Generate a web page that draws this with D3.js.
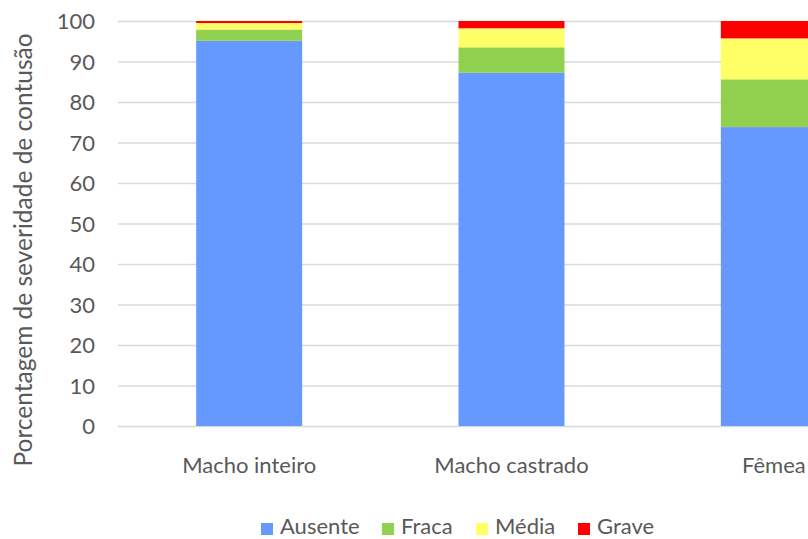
<!DOCTYPE html>
<html><head><meta charset="utf-8">
<script src="https://cdn.jsdelivr.net/npm/d3@7/dist/d3.min.js"></script>
<style>body{margin:0;background:#fff;overflow:hidden}svg{display:block}</style>
</head><body>
<svg id="c" width="808" height="539"></svg>
<script>
const categories = ["Macho inteiro", "Macho castrado", "Fêmea"];
const seriesNames = ["Ausente", "Fraca", "Média", "Grave"];
const ausente = [95.1, 87.2, 73.8];
const fraca = [2.8, 6.3, 11.8];
const media = [1.6, 4.7, 10.1];
const grave = [0.5, 1.8, 4.3];
const yTicks = [0, 10, 20, 30, 40, 50, 60, 70, 80, 90, 100];
const colors = ["#6699FF", "#92D050", "#FFFF66", "#FF0000"];

const font = "Lato, 'Open Sans', sans-serif";
const textColor = "#595959";
const svg = d3.select("#c");

const rows = categories.map((c, i) => ({cat: c, Ausente: ausente[i], Fraca: fraca[i], "Média": media[i], Grave: grave[i]}));
const stacked = d3.stack().keys(seriesNames)(rows);

const x = d3.scaleBand().domain(categories).range([118, 905]).paddingInner(0.596).paddingOuter(0.298);
const y = d3.scaleLinear().domain([0, 100]).range([426, 21]);

// gridlines
svg.append("g").selectAll("line").data(yTicks).join("line")
  .attr("x1", 118).attr("x2", 905)
  .attr("y1", d => y(d) + 0.5).attr("y2", d => y(d) + 0.5)
  .attr("stroke", "#D9D9D9").attr("stroke-width", 1.5);

// y tick labels
const yAxis = d3.axisLeft(y).tickValues(yTicks).tickSize(0).tickPadding(0);
const ga = svg.append("g").attr("transform", "translate(95,0)").call(yAxis);
ga.select(".domain").remove();
ga.selectAll("text").attr("font-family", font).attr("font-size", 22).attr("fill", textColor).attr("dy", "0.36em");

// bars
svg.append("g").selectAll("g").data(stacked).join("g")
  .attr("fill", (d, i) => colors[i])
  .selectAll("rect").data(d => d).join("rect")
  .attr("x", d => x(d.data.cat))
  .attr("width", x.bandwidth())
  .attr("y", d => y(d[1]))
  .attr("height", d => y(d[0]) - y(d[1]));

// x labels
const xAxis = d3.axisBottom(x).tickSize(0).tickPadding(0);
const gx = svg.append("g").attr("transform", "translate(0,473)").call(xAxis);
gx.select(".domain").remove();
gx.selectAll("text").attr("font-family", font).attr("font-size", 22).attr("fill", textColor).attr("dy", 0);

// y title
svg.append("text")
  .attr("transform", "translate(32,250) rotate(-90)")
  .attr("text-anchor", "middle")
  .attr("font-family", font).attr("font-size", 24.5).attr("fill", textColor)
  .text("Porcentagem de severidade de contusão");

// legend
const legendX = [261, 382, 476, 578];
const lg = svg.append("g").selectAll("g").data(seriesNames).join("g")
  .attr("transform", (d, i) => `translate(${legendX[i]},523)`);
lg.append("rect").attr("width", 12).attr("height", 12).attr("fill", (d, i) => colors[i]);
lg.append("text").attr("x", 19).attr("y", 11)
  .attr("font-family", font).attr("font-size", 22).attr("fill", textColor)
  .text(d => d);
</script>
</body></html>
